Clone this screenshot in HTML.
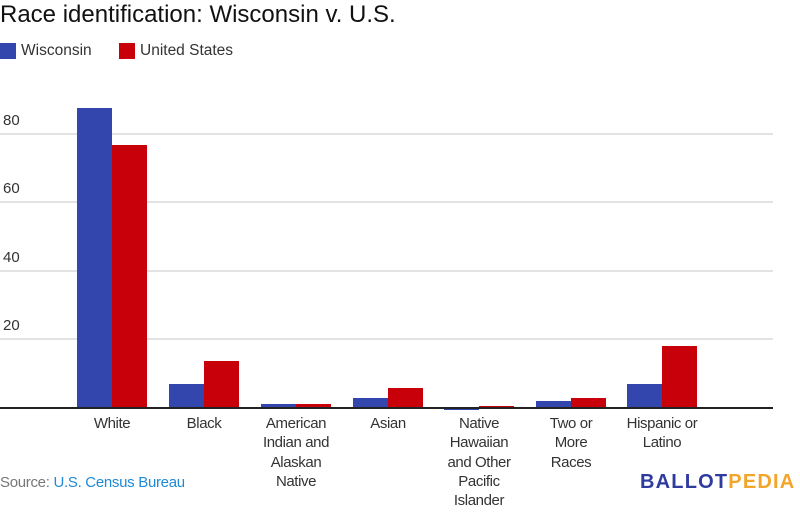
<!DOCTYPE html>
<html><head><meta charset="utf-8"><style>
body{margin:0;width:800px;height:529px;background:#fff;font-family:"Liberation Sans",sans-serif;position:relative;overflow:hidden}
.a{position:absolute}
.g{position:absolute;left:0;width:773px;height:2px;background:#e3e3e3}
.t{position:absolute;left:3px;font-size:15px;color:#333}
.b{position:absolute}
.w{background:#3346ad}.u{background:#c8000a}
.l{position:absolute;top:414px;width:100px;text-align:center;font-size:15px;line-height:19.3px;color:#333;letter-spacing:-0.4px}
</style></head><body>
<div class="a" style="left:0;top:1px;font-size:24px;color:#111">Race identification: Wisconsin v. U.S.</div>
<div class="a w" style="left:0;top:43px;width:16px;height:16px"></div>
<div class="a" style="left:21px;top:42px;font-size:15.5px;color:#333">Wisconsin</div>
<div class="a u" style="left:119px;top:43px;width:16px;height:16px"></div>
<div class="a" style="left:140px;top:42px;font-size:15.5px;color:#333">United States</div>
<div class="g" style="top:133px"></div><div class="t" style="top:112px">80</div>
<div class="g" style="top:201px"></div><div class="t" style="top:180px">60</div>
<div class="g" style="top:270px"></div><div class="t" style="top:249px">40</div>
<div class="g" style="top:338px"></div><div class="t" style="top:317px">20</div>
<div class="b w" style="left:77px;top:108px;width:35px;height:300px"></div>
<div class="b u" style="left:112px;top:145px;width:35px;height:263px"></div>
<div class="b w" style="left:169px;top:384px;width:35px;height:24px"></div>
<div class="b u" style="left:204px;top:361px;width:35px;height:47px"></div>
<div class="b w" style="left:261px;top:404px;width:35px;height:4px"></div>
<div class="b u" style="left:296px;top:404px;width:35px;height:4px"></div>
<div class="b w" style="left:353px;top:398px;width:35px;height:10px"></div>
<div class="b u" style="left:388px;top:388px;width:35px;height:20px"></div>
<div class="b w" style="left:444px;top:408px;width:35px;height:2px"></div>
<div class="b u" style="left:479px;top:406px;width:35px;height:2px"></div>
<div class="b w" style="left:536px;top:401px;width:35px;height:7px"></div>
<div class="b u" style="left:571px;top:398px;width:35px;height:10px"></div>
<div class="b w" style="left:627px;top:384px;width:35px;height:24px"></div>
<div class="b u" style="left:662px;top:346px;width:35px;height:62px"></div>
<div class="a" style="left:0;top:407px;width:773px;height:2px;background:#222"></div>
<div class="l" style="left:62px">White</div>
<div class="l" style="left:154px">Black</div>
<div class="l" style="left:246px">American<br>Indian and<br>Alaskan<br>Native</div>
<div class="l" style="left:338px">Asian</div>
<div class="l" style="left:429px">Native<br>Hawaiian<br>and Other<br>Pacific<br>Islander</div>
<div class="l" style="left:521px">Two or<br>More<br>Races</div>
<div class="l" style="left:612px">Hispanic or<br>Latino</div>
<div class="a" style="left:0;top:474px;font-size:15px;color:#777;letter-spacing:-0.3px">Source: <span style="color:#1f8ad8">U.S. Census Bureau</span></div>
<div class="a" style="left:640px;top:471px;font-size:20px;font-weight:bold;letter-spacing:1.2px;color:#2f3b9e">BALLOT<span style="color:#f2a52a">PEDIA</span></div>
</body></html>
